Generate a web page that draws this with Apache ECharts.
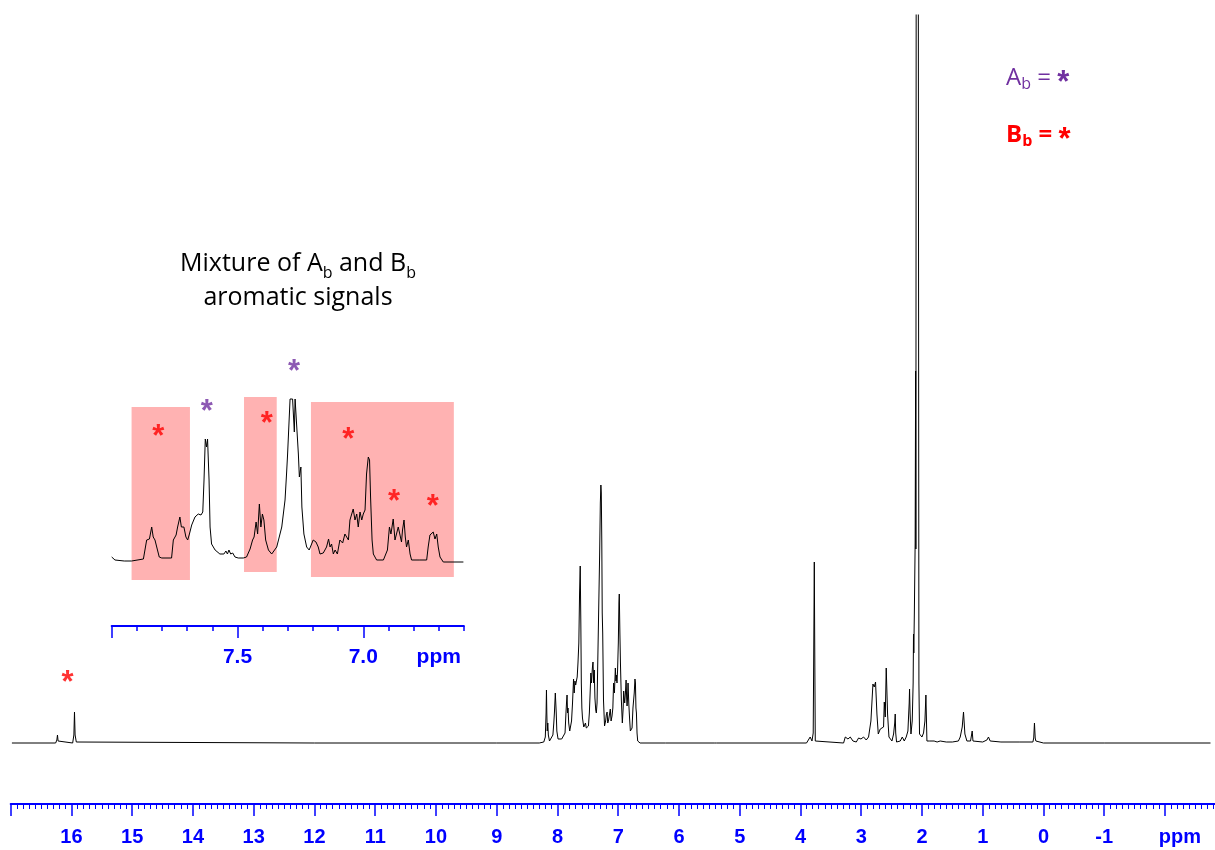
<!DOCTYPE html>
<html><head><meta charset="utf-8">
<script src="https://cdn.jsdelivr.net/npm/echarts@6/dist/echarts.min.js"></script>
<style>html,body{margin:0;padding:0;background:#fff}#c{width:1215px;height:850px}</style>
</head><body><div id="c"></div>
<script>
// ---- data (chemical shift in ppm, intensity in arbitrary units) ----
const mainSpectrum = [
[16.98,0],[16.6,0],[16.26,0],[16.24,3],[16.23,8],[16.22,2],[16.20,0],[15.98,0],[15.96,8],[15.95,31],[15.94,8],[15.92,1],[15.90,0],
[12.0,0],[9.0,0],[8.30,0],[8.225,1],[8.20,6],[8.187,30],[8.181,53],[8.175,30],[8.168,12],[8.159,20],[8.150,8],[8.131,2],[8.103,4],
[8.075,8],[8.060,20],[8.050,30],[8.035,50],[8.028,52],[8.020,30],[8.010,12],[7.99,4],[7.93,4],[7.875,10],[7.860,30],[7.851,40],
[7.842,48],[7.834,30],[7.826,35],[7.815,20],[7.798,12],[7.786,10],[7.768,22],[7.752,40],[7.735,64],[7.724,50],[7.712,62],[7.700,58],
[7.688,62],[7.675,66],[7.662,80],[7.648,100],[7.636,150],[7.625,177],[7.615,120],[7.607,60],[7.598,35],[7.588,25],[7.567,16],
[7.555,18],[7.539,20],[7.525,15],[7.511,14],[7.490,17],[7.475,30],[7.462,50],[7.450,70],[7.440,60],[7.425,75],[7.415,81],[7.404,60],
[7.394,73],[7.383,45],[7.370,33],[7.360,30],[7.348,40],[7.336,82],[7.322,130],[7.306,187],[7.294,240],[7.285,258],[7.278,250],
[7.270,200],[7.263,130],[7.255,110],[7.242,43],[7.225,17],[7.207,22],[7.196,28],[7.183,31],[7.172,20],[7.158,23],[7.143,25],
[7.130,34],[7.117,22],[7.102,27],[7.088,35],[7.076,60],[7.062,50],[7.047,75],[7.037,62],[7.030,68],[7.020,60],[7.010,73],[6.998,100],
[6.988,140],[6.982,149],[6.972,110],[6.963,80],[6.948,43],[6.932,20],[6.918,35],[6.910,52],[6.901,45],[6.893,40],[6.881,50],
[6.870,63],[6.861,45],[6.854,37],[6.846,45],[6.838,60],[6.826,40],[6.815,27],[6.800,12],[6.788,10],[6.772,15],[6.757,35],[6.746,43],
[6.736,50],[6.724,64],[6.716,60],[6.708,35],[6.700,30],[6.690,10],[6.679,2],[6.64,0],[6.22,0],[6.21,2],[6.20,0],[5.42,0],[5.40,2],[5.38,0],
[3.90,0],[3.84,6],[3.81,2],[3.79,10],[3.778,120],[3.772,181],[3.766,110],[3.756,2],[3.73,0],
[3.29,0],[3.262,6],[3.218,4],[3.180,6],[3.136,2],[3.081,1],[3.043,5],[3.004,4],[2.961,6],[2.917,3],[2.879,6],[2.840,22],[2.807,59],
[2.785,56],[2.764,61],[2.741,29],[2.719,9],[2.686,14],[2.658,16],[2.632,16],[2.620,41],[2.604,26],[2.588,75],[2.566,29],[2.543,6],
[2.494,2],[2.467,9],[2.448,20],[2.440,29],[2.432,10],[2.418,1],[2.357,2],[2.324,6],[2.291,2],[2.259,6],[2.231,12],[2.210,40],[2.204,54],
[2.195,30],[2.181,9],[2.160,22],[2.145,60],[2.139,109],[2.134,90],[2.125,130],[2.112,200],[2.104,372],[2.100,194],[2.095,760],
[2.060,760],[2.050,60],[2.040,9],[2.017,8],[2.000,6],[1.974,10],[1.951,22],[1.935,48],[1.918,2],[1.88,2],[1.85,1],[1.80,2],[1.75,1],
[1.70,2],[1.60,1],[1.50,1],[1.40,2],[1.370,6],[1.337,16],[1.316,31],[1.293,9],[1.260,2],[1.20,2],[1.184,4],[1.173,12],[1.160,2],
[1.0,1],[0.931,3],[0.905,6],[0.877,2],[0.70,1],[0.40,1],[0.174,1],[0.160,5],[0.148,20],[0.136,5],[0.125,2],[0.0,0],[-1.0,0],[-2.75,0]
];
const insetSpectrum = [
[8.000,4],[7.987,1],[7.95,0],[7.921,0],[7.874,2],[7.861,21],[7.850,22],[7.841,34],[7.835,24],[7.828,21],[7.821,14],[7.811,4],[7.801,3],
[7.762,3],[7.755,21],[7.744,26],[7.738,34],[7.729,44],[7.723,34],[7.718,32],[7.713,34],[7.705,24],[7.698,21],[7.691,27],[7.682,36],
[7.669,44],[7.656,47],[7.645,46],[7.638,49],[7.633,81],[7.628,122],[7.623,114],[7.619,122],[7.613,81],[7.609,34],[7.603,17],[7.589,11],
[7.570,7],[7.554,7],[7.546,10],[7.540,7],[7.534,11],[7.527,7],[7.519,8],[7.510,4],[7.497,3],[7.477,3],[7.464,4],[7.450,12],[7.440,21],
[7.434,24],[7.426,39],[7.420,27],[7.413,57],[7.407,34],[7.401,47],[7.395,41],[7.388,21],[7.377,11],[7.364,7],[7.344,14],[7.324,34],
[7.311,61],[7.305,87],[7.301,106],[7.291,162],[7.281,162],[7.274,129],[7.271,162],[7.265,162],[7.258,107],[7.254,84],[7.248,94],
[7.244,54],[7.236,27],[7.225,14],[7.215,11],[7.199,21],[7.188,19],[7.179,14],[7.172,7],[7.159,8],[7.146,14],[7.138,22],[7.132,14],
[7.126,17],[7.119,7],[7.112,11],[7.103,7],[7.093,21],[7.082,18],[7.073,27],[7.066,29],[7.059,21],[7.053,41],[7.046,42],[7.040,52],
[7.033,41],[7.026,47],[7.020,34],[7.013,49],[7.006,41],[7.000,47],[6.993,51],[6.987,87],[6.980,104],[6.975,101],[6.971,64],[6.965,21],
[6.960,7],[6.947,1],[6.920,1],[6.904,11],[6.896,34],[6.890,27],[6.881,42],[6.874,21],[6.867,19],[6.861,34],[6.854,26],[6.848,19],
[6.844,31],[6.838,41],[6.833,24],[6.828,14],[6.821,21],[6.814,7],[6.808,1],[6.775,1],[6.748,1],[6.742,14],[6.735,26],[6.728,24],
[6.722,29],[6.715,22],[6.708,27],[6.702,14],[6.695,4],[6.682,-1],[6.602,-1]
];
// asterisk annotations: [ppm, intensity, compound]
const mainStars = [[16.065, 68, 'B']];
const insetStars = [[7.815,132,'B'],[7.622,157,'A'],[7.384,145,'B'],[7.275,197,'A'],[7.060,129,'B'],[6.878,67,'B'],[6.724,62,'B']];
// highlighted B_b regions in the inset: [ppm from, ppm to, intensity low, intensity high]
const insetBoxes = [[7.921,7.689,-19,154],[7.474,7.344,-11,164],[7.208,6.640,-16,159]];
const mainAxisLabels = [16,15,14,13,12,11,10,9,8,7,6,5,4,3,2,1,0,-1];
const insetAxisLabels = [7.5, 7.0];

const colorA = '#7030a0', colorB = '#ff0000', blue = '#0000ff';
const starFont = {fontFamily:'Liberation Sans', fontWeight:'bold', fontSize:31};

function starData(list){
  return list.map(s => ({value:[s[0], s[1]], label:{color: s[2]==='A'?colorA:colorB}}));
}

const chart = echarts.init(document.getElementById('c'), null, {renderer:'canvas'});
chart.setOption({
  animation:false,
  backgroundColor:'#fff',
  grid:[
    {left:10.7, right:-10.7, top:15, bottom:46, containLabel:false, outerBoundsMode:'none'},
    {left:111.7, width:352.2, top:340, bottom:224, containLabel:false, outerBoundsMode:'none'},
    {left:111.7, width:251.6, top:340, bottom:224, containLabel:false, outerBoundsMode:'none'}
  ],
  xAxis:[
    {type:'value', gridIndex:0, min:-3, max:17, interval:1, inverse:true,
     axisLine:{onZero:false, lineStyle:{color:blue, width:2}},
     axisTick:{interval:0, length:12, lineStyle:{color:blue, width:1.5}},
     minorTick:{show:true, splitNumber:10, length:5, lineStyle:{color:blue, width:1}},
     splitLine:{show:false}, minorSplitLine:{show:false},
     axisLabel:{interval:0, margin:23, color:blue, fontFamily:'Liberation Sans', fontWeight:'bold', fontSize:20,
       formatter: v => { const r=Math.round(v); if (r===-2) return '{p|ppm}'; return mainAxisLabels.indexOf(r)>=0 ? String(r) : ''; },
       rich:{p:{padding:[0,0,0,30], color:blue, fontFamily:'Liberation Sans', fontWeight:'bold', fontSize:20}}}
    },
    {type:'value', gridIndex:1, min:6.6, max:8.0, interval:0.1, inverse:true,
     axisLine:{onZero:false, lineStyle:{color:blue, width:2}},
     axisTick:{interval:0, length:5, lineStyle:{color:blue, width:1.5}},
     splitLine:{show:false},
     axisLabel:{interval:0, margin:21, color:blue, fontFamily:'Liberation Sans', fontWeight:'bold', fontSize:21,
       formatter: v => { const r=Math.round(v*10)/10; if (Math.abs(r-6.7)<1e-6) return 'ppm';
         const k = insetAxisLabels.findIndex(x => Math.abs(x-r)<1e-6); return k>=0 ? insetAxisLabels[k].toFixed(1) : ''; }}
    },
    {type:'value', gridIndex:2, min:7.0, max:8.0, interval:0.5, inverse:true,
     axisLine:{show:false, onZero:false},
     axisTick:{interval:0, length:12, lineStyle:{color:blue, width:1.5}},
     axisLabel:{show:false}, splitLine:{show:false}
    }
  ],
  yAxis:[
    {type:'value', gridIndex:0, min:-61, max:728, show:false},
    {type:'value', gridIndex:1, min:-65, max:221, show:false},
    {type:'value', gridIndex:2, min:0, max:1, show:false}
  ],
  series:[
    {type:'line', xAxisIndex:0, yAxisIndex:0, data:mainSpectrum, showSymbol:false, symbol:'none', silent:true,
     lineStyle:{color:'#000', width:1}, clip:true},
    {type:'line', xAxisIndex:1, yAxisIndex:1, data:insetSpectrum, showSymbol:false, symbol:'none', silent:true,
     lineStyle:{color:'#000', width:1}, clip:true, z:3,
     markArea:{silent:true, itemStyle:{color:'#ffb2b2', opacity:1},
       data: insetBoxes.map(b => [{xAxis:b[0], yAxis:b[3]}, {xAxis:b[1], yAxis:b[2]}])}},
    {type:'scatter', xAxisIndex:0, yAxisIndex:0, data:starData(mainStars), symbolSize:0, clip:false, silent:true, z:5,
     label:Object.assign({show:true, position:'inside', formatter:'*', offset:[0,8]}, starFont)},
    {type:'scatter', xAxisIndex:1, yAxisIndex:1, data:starData(insetStars), symbolSize:0, clip:false, silent:true, z:5,
     label:Object.assign({show:true, position:'inside', formatter:'*', offset:[0,8]}, starFont)}
  ],
  graphic:[
    {type:'text', x:1006, y:78, silent:true, style:{
      text:'{a|A}{s|b}{a| = }{t|*}', verticalAlign:'middle', align:'left',
      rich:{ a:{fontFamily:'Open Sans', fontSize:24, fill:colorA, lineHeight:28},
             s:{fontFamily:'Open Sans', fontSize:16, fill:colorA, lineHeight:14, verticalAlign:'bottom'},
             t:{fontFamily:'Liberation Sans', fontWeight:'bold', fontSize:31, fill:colorA, lineHeight:28, padding:[10,0,0,0]} }}},
    {type:'text', x:1006, y:135, silent:true, style:{
      text:'{a|B}{s|b}{a| = }{t|*}', verticalAlign:'middle', align:'left',
      rich:{ a:{fontFamily:'Open Sans', fontWeight:'bold', fontSize:24, fill:colorB, lineHeight:28},
             s:{fontFamily:'Open Sans', fontWeight:'bold', fontSize:16, fill:colorB, lineHeight:14, verticalAlign:'bottom'},
             t:{fontFamily:'Liberation Sans', fontWeight:'bold', fontSize:31, fill:colorB, lineHeight:28, padding:[10,0,0,0]} }}},
    {type:'text', x:298, y:281, silent:true, style:{
      text:'{t|Mixture of A}{s|b}{t| and B}{s|b}\n{t|aromatic signals}', verticalAlign:'middle', align:'center',
      rich:{ t:{fontFamily:'Open Sans', fontSize:25, fill:'#000', lineHeight:34},
             s:{fontFamily:'Open Sans', fontSize:16, fill:'#000', lineHeight:18, verticalAlign:'bottom'} }}}
  ]
});
</script></body></html>
